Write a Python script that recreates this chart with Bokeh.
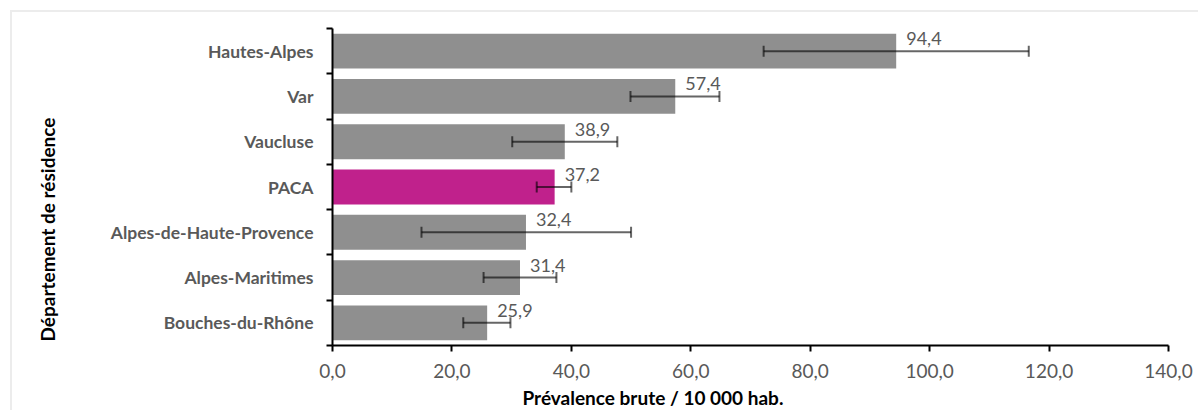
from bokeh.plotting import figure
from bokeh.models import ColumnDataSource, FixedTicker, Whisker, TeeHead, Title, LinearAxis
from bokeh.embed import file_html
from bokeh.resources import INLINE
from bokeh.core.properties import value

departements = ["Hautes-Alpes", "Var", "Vaucluse", "PACA",
                "Alpes-de-Haute-Provence", "Alpes-Maritimes", "Bouches-du-Rhône"]
prevalence = [94.4, 57.4, 38.9, 37.2, 32.4, 31.4, 25.9]
ic_bas = [72.2, 49.9, 30.1, 34.2, 14.9, 25.3, 21.9]
ic_haut = [116.6, 64.8, 47.7, 40.0, 50.0, 37.5, 29.8]
x_ticks = [0, 20, 40, 60, 80, 100, 120, 140]

GREY = "#8f8f8f"
MAGENTA = "#c0218c"
FONT = "Lato"

n = len(departements)
ypos = [n - 0.5 - i for i in range(n)]
colors = [MAGENTA if d == "PACA" else GREY for d in departements]
labels = [f"{v:.1f}".replace(".", ",") for v in prevalence]

src = ColumnDataSource(dict(y=ypos, v=prevalence, lo=ic_bas, hi=ic_haut,
                            c=colors, lab=labels, name=departements))

p = figure(width=1188, height=400, output_backend="svg", toolbar_location=None,
           x_range=(0, 140), y_range=(0, n),
           min_border_left=320, min_border_right=32, min_border_top=16,
           min_border_bottom=67)
p.styles = {"margin-left": "12px", "margin-top": "12px",
            "box-shadow": "-2px -2px 0 0 #ececec"}
p.grid.visible = False
p.outline_line_color = None
p.background_fill_color = "white"
p.border_fill_color = "white"

p.hbar(y="y", right="v", left=0, height=0.77, color="c", line_color=None, source=src)

ERR = "black"
w = Whisker(source=src, base="y", lower="lo", upper="hi", dimension="width",
            line_color=ERR, line_alpha=0.6, line_width=2, level="overlay",
            lower_head=TeeHead(size=11, line_color=ERR, line_alpha=0.6, line_width=2),
            upper_head=TeeHead(size=11, line_color=ERR, line_alpha=0.6, line_width=2))
p.add_layout(w)

p.text(x="v", y="y", text="lab", source=src, x_offset=10, y_offset=-6,
       text_align="left", text_baseline="bottom", text_font=value(FONT),
       text_font_size="18px", text_color="#595959")

# x axis
xa = p.xaxis[0]
xa.ticker = FixedTicker(ticks=x_ticks)
xa.major_label_overrides = {t: f"{t:.1f}".replace(".", ",") for t in x_ticks}
xa.axis_line_color = "black"
xa.axis_line_width = 2
xa.major_tick_line_color = "black"
xa.major_tick_line_width = 2
xa.major_tick_in = 0
xa.major_tick_out = 6
xa.minor_tick_line_color = None
xa.major_label_text_font = FONT
xa.major_label_text_font_size = "19px"
xa.major_label_text_color = "#595959"
xa.major_label_standoff = 12

# y axis: labels at centres, ticks between categories
ya = p.yaxis[0]
ya.ticker = FixedTicker(ticks=ypos, minor_ticks=list(range(n + 1)))
ya.major_label_overrides = {y: d for y, d in zip(ypos, departements)}
ya.axis_line_color = "black"
ya.axis_line_width = 2
ya.major_tick_line_color = None
ya.minor_tick_line_color = "black"
ya.minor_tick_line_width = 2
ya.minor_tick_in = 0
ya.minor_tick_out = 6
ya.major_label_text_font = FONT
ya.major_label_text_font_style = "bold"
ya.major_label_text_font_size = "17.5px"
ya.major_label_text_color = "#595959"
ya.major_label_standoff = 13

# invisible spacer axis between tick labels and the axis title
mid = n / 2
spacer = LinearAxis(ticker=FixedTicker(ticks=[mid]), major_label_overrides={mid: ""},
                    major_tick_out=34, major_tick_in=0,
                    major_tick_line_color=None, minor_tick_line_color=None,
                    minor_tick_out=0, axis_line_color=None, major_label_standoff=0,
                    major_label_text_font_size="1px")
p.add_layout(spacer, "left")

p.add_layout(Title(text="Département de résidence", align="left", offset=4,
                   standoff=30, text_font=FONT,
                   text_font_style="bold", text_font_size="19px",
                   text_color="black"), "left")
p.add_layout(Title(text="Prévalence brute / 10 000 hab.", align="left", offset=190,
                   standoff=7, text_font=FONT, text_font_style="bold",
                   text_font_size="19px", text_color="black"), "below")

open("out.html", "w").write(file_html(p, INLINE))
